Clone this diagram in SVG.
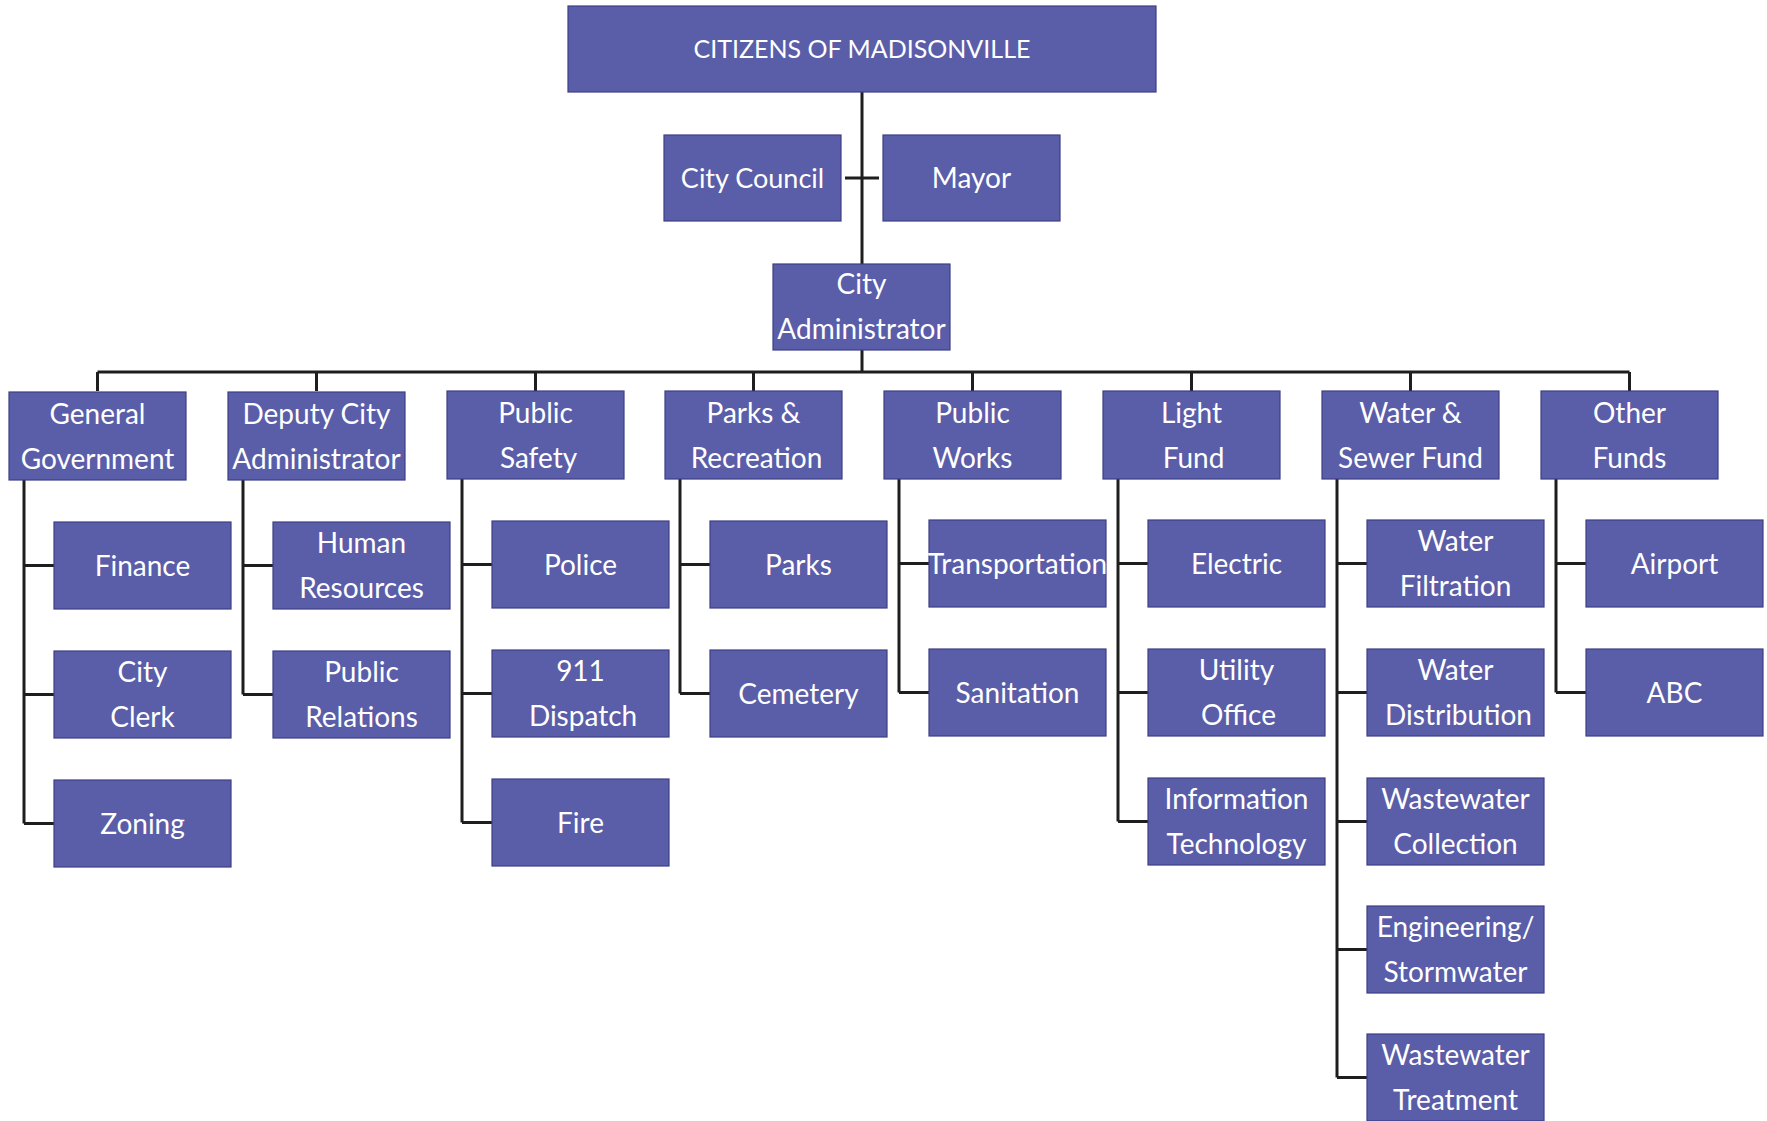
<svg xmlns="http://www.w3.org/2000/svg" width="1767" height="1121" viewBox="0 0 1767 1121">
<style>
.b{fill:#5a5da8;stroke:#3c3f85;stroke-width:1.2}
.t{font-family:Lato,"Liberation Sans",sans-serif;font-size:28px;fill:#ffffff;text-anchor:middle}
.c{fill:none;stroke:#1e1e1e;stroke-width:3}
</style>
<rect width="1767" height="1121" fill="#ffffff"/>
<g id="connectors" class="c">
<path d="M862 92V264M845 178H879M862 349V372M97.5 372H1629.5"/>
<path d="M97.5 372V391M316.5 372V391M535.5 372V391M753.5 372V391M972.5 372V391M1191.5 372V391M1410.5 372V391M1629.5 372V391"/>
<path d="M24 479V823.5M24 565.5H54M24 694.5H54M24 823.5H54"/>
<path d="M243 479V694.5M243 565.5H273M243 694.5H273"/>
<path d="M462 479V822.5M462 564.5H492M462 693.5H492M462 822.5H492"/>
<path d="M680 479V693.5M680 564.5H710M680 693.5H710"/>
<path d="M899 479V692.5M899 563.5H929M899 692.5H929"/>
<path d="M1118 479V821.5M1118 563.5H1148M1118 692.5H1148M1118 821.5H1148"/>
<path d="M1337 479V1077.5M1337 563.5H1367M1337 692.5H1367M1337 821.5H1367M1337 949.5H1367M1337 1077.5H1367"/>
<path d="M1556 479V692.5M1556 563.5H1586M1556 692.5H1586"/>
</g>
<g id="citizens"><rect class="b" x="568" y="6" width="588" height="86"/><text class="t" x="862" y="57.5" style="font-size:25px">CITIZENS OF MADISONVILLE</text></g>
<g id="city-council"><rect class="b" x="664" y="135" width="177" height="86"/><text class="t" x="752.5" y="188" style="font-size:27px">City Council</text></g>
<g id="mayor"><rect class="b" x="883" y="135" width="177" height="86"/><text class="t" x="971.5" y="188">Mayor</text></g>
<g id="city-administrator"><rect class="b" x="773" y="264" width="177" height="86"/><text class="t" x="861.5" y="294">City</text><text class="t" x="861.5" y="339">Administrator</text></g>

<g id="general-government"><rect class="b" x="9" y="392" width="177" height="88"/><text class="t" x="97.5" y="423.5">General</text><text class="t" x="97.5" y="468.5">Government</text></g>
<g id="deputy-city-administrator"><rect class="b" x="228" y="392" width="177" height="88"/><text class="t" x="316.5" y="423.5">Deputy City</text><text class="t" x="316.5" y="468.5">Administrator</text></g>
<g id="public-safety"><rect class="b" x="447" y="391" width="177" height="88"/><text class="t" x="535.5" y="422.5">Public</text><text class="t" x="538.5" y="467.5">Safety</text></g>
<g id="parks-recreation"><rect class="b" x="665" y="391" width="177" height="88"/><text class="t" x="753.5" y="422.5">Parks &amp;</text><text class="t" x="756.5" y="467.5">Recreation</text></g>
<g id="public-works"><rect class="b" x="884" y="391" width="177" height="88"/><text class="t" x="972.5" y="422.5">Public</text><text class="t" x="972.5" y="467.5">Works</text></g>
<g id="light-fund"><rect class="b" x="1103" y="391" width="177" height="88"/><text class="t" x="1191.5" y="422.5">Light</text><text class="t" x="1193.5" y="467.5">Fund</text></g>
<g id="water-sewer-fund"><rect class="b" x="1322" y="391" width="177" height="88"/><text class="t" x="1410.5" y="422.5">Water &amp;</text><text class="t" x="1410.5" y="467.5">Sewer Fund</text></g>
<g id="other-funds"><rect class="b" x="1541" y="391" width="177" height="88"/><text class="t" x="1629.5" y="422.5">Other</text><text class="t" x="1629.5" y="467.5">Funds</text></g>

<g id="finance"><rect class="b" x="54" y="522" width="177" height="87"/><text class="t" x="142.5" y="575.5">Finance</text></g>
<g id="city-clerk"><rect class="b" x="54" y="651" width="177" height="87"/><text class="t" x="142.5" y="682">City</text><text class="t" x="142.5" y="727">Clerk</text></g>
<g id="zoning"><rect class="b" x="54" y="780" width="177" height="87"/><text class="t" x="142.5" y="833.5">Zoning</text></g>

<g id="human-resources"><rect class="b" x="273" y="522" width="177" height="87"/><text class="t" x="361.5" y="553">Human</text><text class="t" x="361.5" y="598">Resources</text></g>
<g id="public-relations"><rect class="b" x="273" y="651" width="177" height="87"/><text class="t" x="361.5" y="682">Public</text><text class="t" x="361.5" y="727">Relations</text></g>

<g id="police"><rect class="b" x="492" y="521" width="177" height="87"/><text class="t" x="580.5" y="574.5">Police</text></g>
<g id="dispatch-911"><rect class="b" x="492" y="650" width="177" height="87"/><text class="t" x="580.5" y="681">911</text><text class="t" x="583" y="726">Dispatch</text></g>
<g id="fire"><rect class="b" x="492" y="779" width="177" height="87"/><text class="t" x="580.5" y="832.5">Fire</text></g>

<g id="parks"><rect class="b" x="710" y="521" width="177" height="87"/><text class="t" x="798.5" y="574.5">Parks</text></g>
<g id="cemetery"><rect class="b" x="710" y="650" width="177" height="87"/><text class="t" x="798.5" y="703.5">Cemetery</text></g>

<g id="transportation"><rect class="b" x="929" y="520" width="177" height="87"/><text class="t" x="1017.5" y="573.5">Transportation</text></g>
<g id="sanitation"><rect class="b" x="929" y="649" width="177" height="87"/><text class="t" x="1017.5" y="702.5">Sanitation</text></g>

<g id="electric"><rect class="b" x="1148" y="520" width="177" height="87"/><text class="t" x="1236.5" y="573.5">Electric</text></g>
<g id="utility-office"><rect class="b" x="1148" y="649" width="177" height="87"/><text class="t" x="1236.5" y="680">Utility</text><text class="t" x="1238.5" y="725">Office</text></g>
<g id="information-technology"><rect class="b" x="1148" y="778" width="177" height="87"/><text class="t" x="1236.5" y="809">Information</text><text class="t" x="1236.5" y="854">Technology</text></g>

<g id="water-filtration"><rect class="b" x="1367" y="520" width="177" height="87"/><text class="t" x="1455.5" y="551">Water</text><text class="t" x="1455.5" y="596">Filtration</text></g>
<g id="water-distribution"><rect class="b" x="1367" y="649" width="177" height="87"/><text class="t" x="1455.5" y="680">Water</text><text class="t" x="1458.5" y="725">Distribution</text></g>
<g id="wastewater-collection"><rect class="b" x="1367" y="778" width="177" height="87"/><text class="t" x="1455.5" y="809">Wastewater</text><text class="t" x="1455.5" y="854">Collection</text></g>
<g id="engineering-stormwater"><rect class="b" x="1367" y="906" width="177" height="87"/><text class="t" x="1455.5" y="937">Engineering/</text><text class="t" x="1455.5" y="982">Stormwater</text></g>
<g id="wastewater-treatment"><rect class="b" x="1367" y="1034" width="177" height="87"/><text class="t" x="1455.5" y="1065">Wastewater</text><text class="t" x="1455.5" y="1110">Treatment</text></g>

<g id="airport"><rect class="b" x="1586" y="520" width="177" height="87"/><text class="t" x="1674.5" y="573.5">Airport</text></g>
<g id="abc"><rect class="b" x="1586" y="649" width="177" height="87"/><text class="t" x="1674.5" y="702.5">ABC</text></g>
</svg>
